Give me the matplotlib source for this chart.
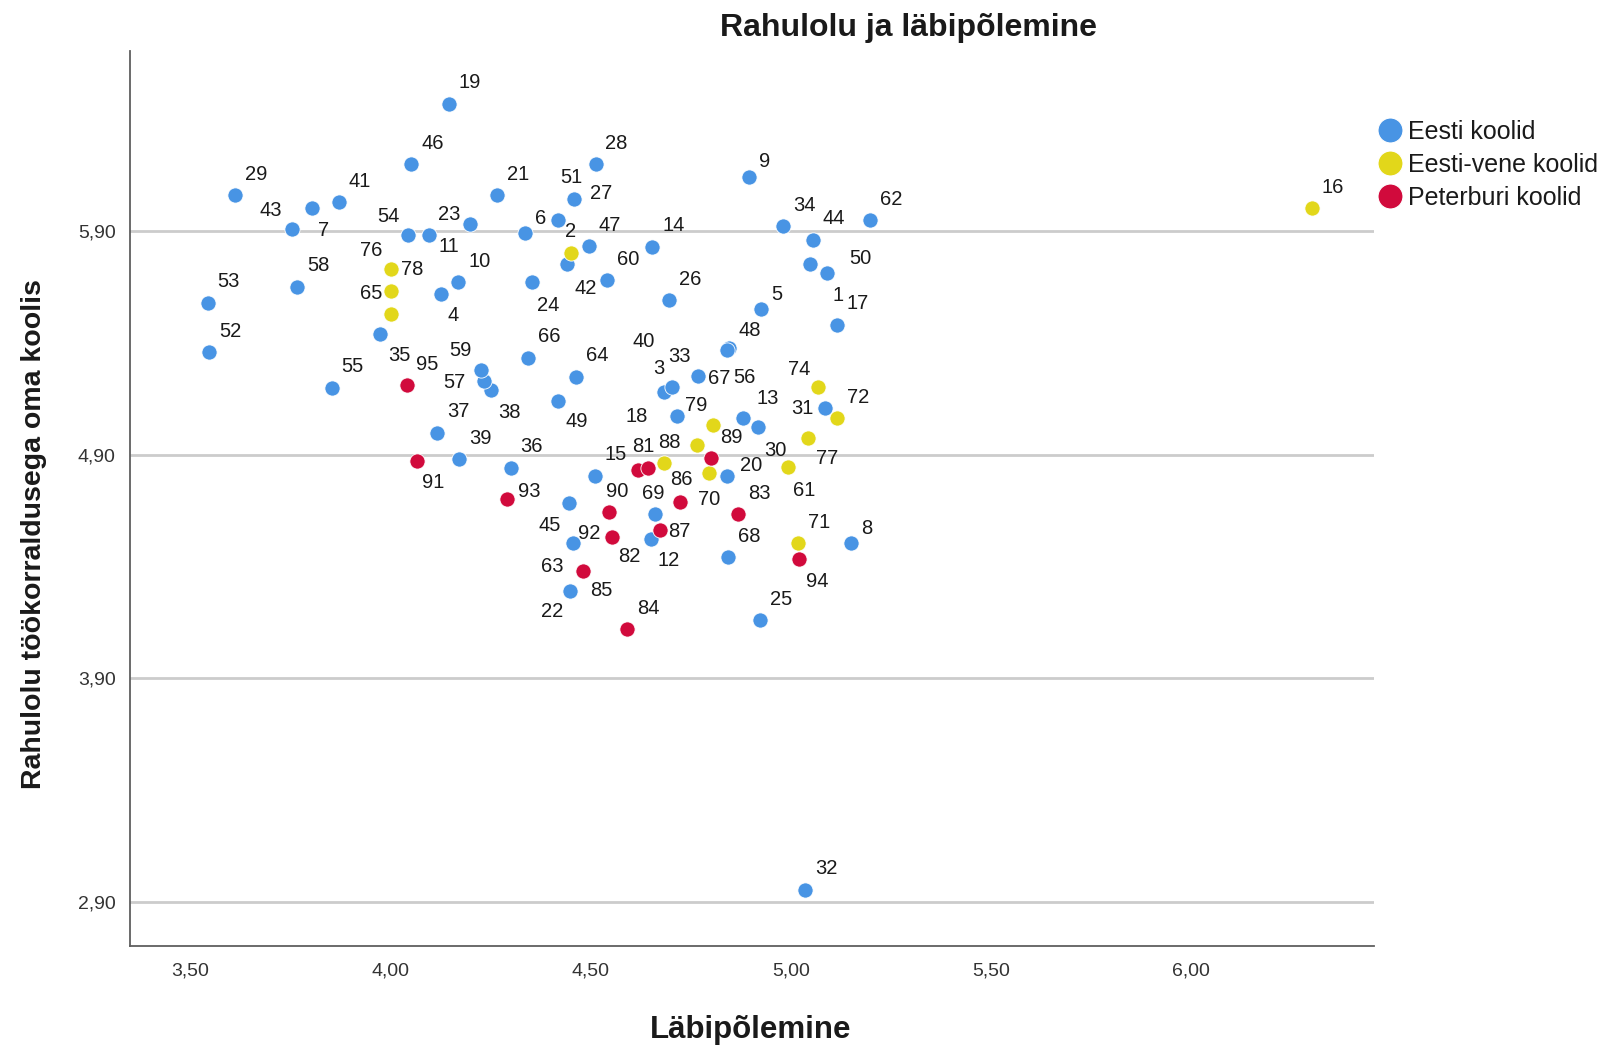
import matplotlib
matplotlib.use("Agg")
import matplotlib.pyplot as plt
from matplotlib.lines import Line2D
from matplotlib.ticker import FixedLocator, FuncFormatter

plt.rcParams['font.family'] = ['Liberation Sans', 'DejaVu Sans']

# ---------------- data ----------------
# Eesti koolid
eesti_id = [1, 3, 4, 5, 6, 7, 8, 9, 10, 11, 12, 13, 14, 15, 17, 18, 19, 20, 21, 22,
            23, 24, 25, 26, 27, 28, 29, 30, 31, 32, 33, 34, 35, 36, 37, 38, 39, 41, 42, 43,
            44, 45, 46, 47, 48, 49, 50, 51, 52, 53, 54, 55, 56, 57, 58, 59, 60, 62, 63, 64,
            66, 67, 68, 69]
eesti_x = [5.090, 4.683, 4.127, 4.925, 4.335, 3.805, 5.151, 4.895, 4.169, 4.198, 4.650, 4.881, 4.654, 4.510, 5.114, 4.716, 4.146, 4.839, 4.266, 4.448,
           4.095, 4.352, 4.922, 4.695, 4.459, 4.512, 3.612, 4.918, 5.086, 5.036, 4.704, 4.981, 3.974, 4.300, 4.116, 4.252, 4.171, 3.870, 4.440, 3.753,
           5.054, 4.446, 4.052, 4.495, 4.846, 4.418, 5.047, 4.419, 3.547, 3.543, 4.043, 3.853, 4.839, 4.233, 3.767, 4.225, 4.541, 5.197, 4.455, 4.463,
           4.344, 4.768, 4.843, 4.660]
eesti_y = [5.711, 5.181, 5.620, 5.550, 5.892, 6.002, 4.503, 6.140, 5.671, 5.931, 4.521, 5.062, 5.830, 4.806, 5.480, 5.073, 6.469, 4.804, 6.060, 4.291,
           5.882, 5.671, 4.160, 5.591, 6.042, 6.198, 6.060, 5.022, 5.110, 2.954, 5.201, 5.922, 5.439, 4.841, 4.998, 5.189, 4.880, 6.028, 5.752, 5.909,
           5.860, 4.682, 6.198, 5.833, 5.375, 5.141, 5.752, 5.949, 5.359, 5.579, 5.882, 5.199, 5.368, 5.229, 5.650, 5.278, 5.681, 5.949, 4.503, 5.248,
           5.334, 5.253, 4.441, 4.633]

# Eesti-vene koolid
ev_id = [2, 16, 40, 61, 65, 70, 71, 72, 74, 76, 77, 78, 79, 88]
ev_x = [4.450, 6.300, 4.766, 4.992, 4.001, 4.796, 5.018, 5.115, 5.068, 4.001, 5.043, 4.001, 4.806, 4.683]
ev_y = [5.803, 6.002, 4.943, 4.843, 5.529, 4.819, 4.503, 5.062, 5.201, 5.729, 4.973, 5.632, 5.032, 4.861]

# Peterburi koolid
pb_id = [81, 82, 83, 84, 85, 86, 87, 89, 90, 91, 92, 93, 94, 95]
pb_x = [4.617, 4.552, 4.868, 4.591, 4.481, 4.723, 4.673, 4.799, 4.546, 4.066, 4.643, 4.292, 5.020, 4.040]
pb_y = [4.831, 4.530, 4.633, 4.120, 4.381, 4.689, 4.563, 4.884, 4.642, 4.870, 4.841, 4.700, 4.432, 5.210]

group_names = ["Eesti koolid", "Eesti-vene koolid", "Peterburi koolid"]
group_colors = ["#4894e4", "#e2d71a", "#d10a3c"]

x_ticks = [3.5, 4.0, 4.5, 5.0, 5.5, 6.0]
y_ticks = [2.9, 3.9, 4.9, 5.9]

title = "Rahulolu ja läbipõlemine"
x_label = "Läbipõlemine"
y_label = "Rahulolu töökorraldusega oma koolis"

# label placement (screen pixel offsets, y downwards); default upper-right
label_offsets = {
    7: (11, 22), 43: (-21, -19), 54: (-19, -19), 11: (-21, 22), 6: (16, -14),
    51: (13, -43), 27: (27, -6), 9: (16, -16), 42: (19, 24), 5: (16, -15),
    50: (51, -6), 1: (11, 22), 4: (12, 22), 24: (17, 23), 35: (19, 21),
    59: (-20, -20), 57: (-29, 1), 38: (18, 22), 49: (19, 21), 3: (-5, -23),
    33: (7, -31), 48: (20, -18), 56: (18, 27), 67: (21, 3), 18: (-41, 1),
    13: (24, -20), 30: (17, 23), 31: (-23, 1), 20: (25, -11), 45: (-19, 22),
    69: (-2, -21), 12: (18, 21), 63: (-21, 23), 8: (15, -15), 22: (-18, 21),
    76: (-20, -19), 65: (-20, -20), 2: (0, -21), 74: (-19, -18), 77: (19, 20),
    61: (16, 23), 79: (-17, -20), 40: (-54, -104), 70: (0, 27), 88: (5, -21),
    91: (16, 21), 93: (22, -8), 81: (6, -24), 92: (-59, 66), 86: (1, -22),
    90: (8, -21), 82: (18, 19), 87: (19, 1), 85: (18, 20), 94: (18, 22),
}
default_offset = (21, -21)

# ---------------- figure ----------------
W, H = 1611, 1050
fig = plt.figure(figsize=(W / 100, H / 100), dpi=100)
ax = fig.add_axes([129.5 / W, 1 - 946 / H, (1373.6 - 129.5) / W, (946 - 51) / H])

ax.set_xlim(3.348, 6.455)
ax.set_ylim(2.703, 6.705)

groups = [(eesti_id, eesti_x, eesti_y), (ev_id, ev_x, ev_y), (pb_id, pb_x, pb_y)]
for (ids, xs, ys), name, col in zip(groups, group_names, group_colors):
    ax.scatter(xs, ys, s=120, color=col, edgecolors="white", linewidths=0.6,
               zorder=3, label=name)
    for i, xv, yv in zip(ids, xs, ys):
        dx, dy = label_offsets.get(i, default_offset)
        ax.annotate(str(i), (xv, yv), xytext=(dx, -dy), textcoords="offset pixels",
                    ha="center", va="center", fontsize=14.5, color="#1a1a1a", zorder=4)

ax.xaxis.set_major_locator(FixedLocator(x_ticks))
ax.yaxis.set_major_locator(FixedLocator(y_ticks))
fmt = FuncFormatter(lambda v, p: f"{v:.2f}".replace(".", ","))
ax.xaxis.set_major_formatter(fmt)
ax.yaxis.set_major_formatter(fmt)
ax.tick_params(axis="both", length=0, labelsize=14, colors="#333333")
ax.tick_params(axis="x", pad=12)
ax.tick_params(axis="y", pad=10)

ax.yaxis.grid(True, color="#cccccc", linewidth=2)
ax.set_axisbelow(True)
for s in ["top", "right"]:
    ax.spines[s].set_visible(False)
for s in ["left", "bottom"]:
    ax.spines[s].set_color("#5f5f5f")
    ax.spines[s].set_linewidth(1.3)

fig.text(909 / W, 1 - 28 / H, title, ha="center", va="center",
         fontsize=23, fontweight="bold", color="#1a1a1a")
fig.text(751 / W, 1 - 1030 / H, x_label, ha="center", va="center",
         fontsize=22.5, fontweight="bold", color="#1a1a1a")
fig.text(34 / W, 1 - 534 / H, y_label, ha="center", va="center", rotation=90,
         fontsize=20.5, fontweight="bold", color="#1a1a1a")

handles = [Line2D([0], [0], marker="o", linestyle="", markersize=18,
                  markerfacecolor=c, markeredgecolor="white", markeredgewidth=0.8)
           for c in group_colors]
leg = fig.legend(handles, group_names, loc="upper left",
                 bbox_to_anchor=(1380 / W, 1 - 120 / H), frameon=False,
                 fontsize=18, handlelength=0.8, handletextpad=0.3,
                 labelspacing=0.36, borderaxespad=0, borderpad=0)
for t in leg.get_texts():
    t.set_color("#1a1a1a")

fig.savefig("out.png", dpi=100)
